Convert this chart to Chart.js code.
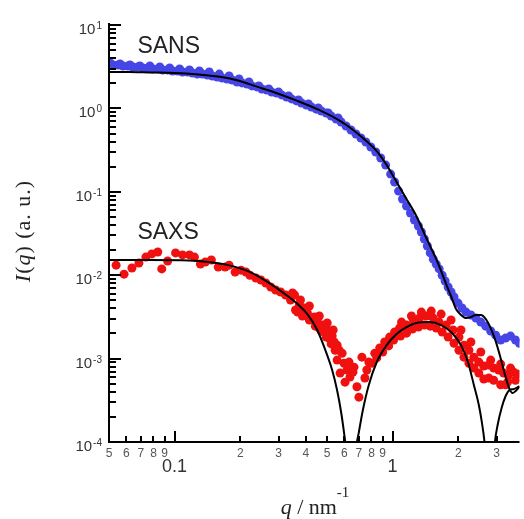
<!DOCTYPE html>
<html>
<head>
<meta charset="utf-8">
<script src="https://cdn.jsdelivr.net/npm/chart.js@4"></script>
<style>
  html, body { margin: 0; padding: 0; background: #fff; }
  canvas { display: block; }
</style>
</head>
<body>
<canvas id="scattering-chart" width="524" height="519"></canvas>
<script>
// SANS data (blue dots), q in nm^-1, I in a.u.
const sansQ = [0.0496,0.0523,0.0551,0.0580,0.0611,0.0644,0.0679,0.0715,0.0754,0.0794,
  0.0837,0.0882,0.0929,0.0979,0.1032,0.1087,0.1146,0.1207,0.1272,0.1341,
  0.1413,0.1489,0.1568,0.1653,0.1741,0.1835,0.1934,0.2038,0.2147,0.2262,
  0.2384,0.2512,0.2647,0.2789,0.2939,0.3097,0.3263,0.3438,0.3623,0.3818,
  0.4023,0.4239,0.4467,0.4707,0.4960,0.5226,0.5507,0.5803,0.6115,0.6443,
  0.6790,0.7155,0.7539,0.7943,0.8370,0.8820,0.9294,0.9793,1.021,1.065,
  1.110,1.158,1.207,1.259,1.313,1.355,1.398,1.443,1.488,1.536,
  1.585,1.635,1.688,1.741,1.797,1.854,1.913,1.995,2.080,2.170,
  2.286,2.409,2.538,2.675,2.818,2.970,3.130,3.298,3.475,3.662,3.818,
  0.0506,0.0562,0.0624,0.0693,0.0770,0.0855,0.0949,0.1054,0.1170,0.1299,
  0.1442,0.1602,0.1778,0.1974,0.2193,0.2434,0.2703,0.3001,0.3332,0.3700,
  0.4108,0.4560,0.5064,0.5623];
const sansI = [3.41,3.31,3.31,3.22,3.22,3.14,3.14,3.05,3.05,2.97,
  2.97,2.89,2.89,2.81,2.81,2.73,2.73,2.66,2.58,2.58,
  2.51,2.45,2.38,2.31,2.25,2.19,2.07,2.02,1.96,1.86,
  1.81,1.71,1.66,1.57,1.53,1.45,1.37,1.30,1.23,1.16,
  1.10,1.04,0.98,0.931,0.88,0.811,0.746,0.687,0.615,0.551,
  0.493,0.441,0.395,0.344,0.300,0.254,0.209,0.163,0.131,0.102,
  0.082,0.0676,0.0557,0.0459,0.0389,0.0330,0.0272,0.0224,0.0185,0.0156,
  0.0136,0.0119,0.0100,0.00851,0.00721,0.00628,0.00547,0.00463,0.00404,0.00361,
  0.00333,0.00306,0.00274,0.00245,0.00214,0.00191,0.00167,0.00176,0.00186,0.00167,0.00153,
  3.50,3.41,3.31,3.22,3.22,3.14,3.05,2.97,2.89,2.81,
  2.73,2.58,2.45,2.25,2.07,1.86,1.71,1.57,1.41,1.26,
  1.13,1.01,0.88,0.767];

// SAXS data (red dots)
const saxsQ = [0.0539,0.0586,0.0637,0.0686,0.0738,0.0786,0.0837,0.0873,0.0929,0.1010,
  0.1087,0.1170,0.1233,0.1313,0.1383,0.1474,0.1585,0.1705,0.1778,0.1894,
  0.2016,0.2125,0.2215,0.2359,0.2486,0.2619,0.2760,0.2908,0.3064,0.3229,
  0.3402,0.3548,0.3585,0.3738,0.3939,0.4065,0.4239,0.4375,0.4514,0.4609,
  0.4757,0.4858,0.5012,0.5117,0.5282,0.5395,0.5564,0.5683,0.5864,0.5564,
  0.5987,0.6179,0.5742,0.6049,0.6374,0.6648,0.686,0.7006,0.7231,0.7616,
  0.8027,0.8283,0.8727,0.9197,0.9691,1.021,1.076,1.158,1.246,1.327,
  1.427,1.536,1.635,1.760,1.894,2.016,2.125,2.239,2.359,2.486,
  2.619,2.760,2.908,3.064,3.229,3.298,3.402,3.585,3.738,
  0.3664,0.3857,0.4150,0.4420,0.4707,0.4960,0.5226,0.5450,0.631,0.658,
  0.746,0.7777,0.846,0.9006,0.959,1.011,1.087,1.158,1.233,1.313,
  1.398,1.488,1.585,1.688,1.797,1.913,2.016,2.125,2.239,2.359,
  2.486,2.619,2.760,2.908,3.130,3.367,3.662,
  1.099,1.220,1.355,1.504,1.670,1.854,2.059,2.286,2.538,2.818,3.130,3.475,
  0.3475,0.3778,0.4150,0.4609,0.5012,0.5337];
const saxsI = [0.0132,0.0103,0.0122,0.0140,0.0165,0.0180,0.0190,0.0119,0.0148,0.0185,
  0.0175,0.0175,0.0165,0.0136,0.0144,0.0152,0.0125,0.0125,0.0132,0.0109,
  0.0115,0.0109,0.0100,0.00925,0.00875,0.00805,0.00721,0.00664,0.00628,0.00578,
  0.00504,0.00578,0.00382,0.00439,0.00404,0.00352,0.00306,0.00315,0.00274,0.00232,
  0.00252,0.00208,0.00220,0.00176,0.00186,0.00158,0.00145,0.00126,0.00116,0.00096,
  0.00088,0.00073,0.00067,0.000522,0.00060,0.00079,0.00046,0.000345,0.00104,0.00073,
  0.00088,0.00116,0.00134,0.00158,0.00181,0.00208,0.00232,0.00252,0.00290,0.00306,
  0.00324,0.00306,0.00274,0.00252,0.00220,0.00181,0.00145,0.00126,0.00104,0.000908,
  0.000813,0.000836,0.000769,0.00073,0.00067,0.000485,0.000634,0.000689,0.000652,
  0.00361,0.00324,0.00290,0.00245,0.00214,0.00181,0.00150,0.00126,0.000908,0.000689,
  0.000585,0.000908,0.00102,0.00120,0.00142,0.00167,0.00186,0.00202,0.00226,0.00239,
  0.00252,0.00245,0.00232,0.00208,0.00181,0.00153,0.00126,0.00104,0.00088,0.000769,
  0.00067,0.000568,0.000585,0.00055,0.000485,0.000522,0.00055,
  0.00274,0.00324,0.00361,0.00371,0.00342,0.00290,0.00220,0.00158,0.00120,0.00096,0.000859,0.000769,
  0.00611,0.00504,0.00427,0.00324,0.00267,0.00220];

// model fits (black lines)
const sansFitQ = [0.0496,0.0618,0.0762,0.1,0.1285,0.1585,0.1954,0.241,0.297,0.366,
  0.451,0.556,0.618,0.686,0.762,0.846,0.939,1.043,1.158,1.285,
  1.427,1.585,1.67,1.76,1.854,1.954,2.06,2.17,2.286,2.41,
  2.54,2.676,2.818,2.97,3.13,3.30,3.44,3.55,3.66,3.82];
const sansFitI = [2.73,2.73,2.70,2.66,2.55,2.41,2.16,1.81,1.51,1.23,
  0.98,0.746,0.624,0.507,0.401,0.308,0.21,0.131,0.082,0.0513,
  0.0279,0.0156,0.0112,0.00783,0.00562,0.00393,0.00333,0.00306,0.00315,0.00333,
  0.00333,0.00298,0.00232,0.00162,0.00101,0.00060,0.00043,0.000386,0.000407,0.00046];
const saxsFitQ = [0.0496,0.0762,0.1158,0.1427,0.176,0.217,0.2676,0.33,0.366,0.4065,
  0.451,0.501,0.528,0.556,0.5803,0.598,0.612,0.645,0.679,0.7006,
  0.7305,0.7777,0.846,0.939,1.043,1.158,1.285,1.473,1.67,1.854,
  2.059,2.215,2.359,2.486,2.565,2.647,2.79,2.938,3.032,3.162,
  3.30,3.44,3.585,3.82];
const saxsFitI = [0.0152,0.0152,0.0150,0.0144,0.0132,0.0112,0.00828,0.00563,0.00452,0.00342,
  0.00220,0.00110,0.00073,0.00042,0.000229,0.000132,0.00008,0.00001,0.00008,0.000132,
  0.000242,0.000483,0.00091,0.00145,0.00197,0.00239,0.00267,0.00274,0.00252,0.00208,
  0.00145,0.00091,0.000483,0.000278,0.000174,0.000092,0.00001,0.000092,0.00016,0.000256,
  0.000356,0.00042,0.00043,0.000468];

// axis ticks and labels
const yDecades = [1e-4, 1e-3, 1e-2, 1e-1, 1, 10];
const yExponents = ['-4', '-3', '-2', '-1', '0', '1'];
const xMinorTicks = [0.05, 0.06, 0.07, 0.08, 0.09, 0.2, 0.3, 0.4, 0.5, 0.6, 0.7, 0.8, 0.9, 2, 3];
const xMinorLabels = ['5', '6', '7', '8', '9', '2', '3', '4', '5', '6', '7', '8', '9', '2', '3'];
const xMajorTicks = [0.1, 1];
const xMajorLabels = ['0.1', '1'];

// series labels written on the plot, anchored in data units
const seriesNotes = [
    { text: 'SANS', q: 0.0675, I: 4.62 },
    { text: 'SAXS', q: 0.0675, I: 0.0272 },
];

function toPoints(qs, is) {
    return qs.map((q, i) => ({ x: q, y: is[i] }));
}

function drawRuns(ctx, runs, x, y) {
    // runs drawn left to right, centred on x
    let total = 0;
    runs.forEach(r => { ctx.font = r.font; total += ctx.measureText(r.text).width; });
    let cx = x - total / 2;
    ctx.textAlign = 'left';
    runs.forEach(r => {
        ctx.font = r.font;
        ctx.fillText(r.text, cx, y + (r.dy || 0));
        cx += ctx.measureText(r.text).width;
    });
}

const paperAxes = {
    id: 'paperAxes',
    afterDatasetsDraw(chart) {
        const { ctx, chartArea: area, scales: { x, y } } = chart;
        ctx.save();
        ctx.strokeStyle = '#000';
        ctx.lineWidth = 2;
        ctx.lineCap = 'butt';

        const seg = (x1, y1, x2, y2) => {
            ctx.beginPath();
            ctx.moveTo(x1, y1);
            ctx.lineTo(x2, y2);
            ctx.stroke();
        };

        // axis lines
        seg(area.left, area.top - 2, area.left, area.bottom + 1);
        seg(area.left - 1, area.bottom, area.right, area.bottom);

        // y ticks, pointing inwards
        yDecades.forEach((d, i) => {
            const py = Math.round(y.getPixelForValue(d));
            seg(area.left, py, area.left + 12, py);
            if (i < yDecades.length - 1) {
                for (let m = 2; m <= 9; m++) {
                    const pm = Math.round(y.getPixelForValue(d * m));
                    seg(area.left, pm, area.left + 7, pm);
                }
            }
        });

        // x ticks, pointing up
        xMinorTicks.forEach(v => {
            const px = Math.round(x.getPixelForValue(v));
            seg(px, area.bottom, px, area.bottom - 6);
        });
        xMajorTicks.forEach(v => {
            const px = Math.round(x.getPixelForValue(v));
            seg(px, area.bottom, px, area.bottom - 11);
        });

        // y tick labels: 10 with raised exponent
        ctx.fillStyle = '#333';
        ctx.textBaseline = 'alphabetic';
        yDecades.forEach((d, i) => {
            const py = y.getPixelForValue(d);
            ctx.font = '10px "Liberation Sans", Arial, sans-serif';
            ctx.textAlign = 'right';
            const expRight = area.left - 7;
            ctx.fillText(yExponents[i], expRight, py + 4);
            const ew = ctx.measureText(yExponents[i]).width;
            ctx.font = '15px "Liberation Sans", Arial, sans-serif';
            ctx.fillText('10', expRight - ew - 1, py + 9);
        });

        // x tick labels
        ctx.textAlign = 'center';
        ctx.fillStyle = '#555';
        ctx.font = '12px "Liberation Sans", Arial, sans-serif';
        xMinorTicks.forEach((v, i) => {
            ctx.fillText(xMinorLabels[i], x.getPixelForValue(v), area.bottom + 15);
        });
        ctx.fillStyle = '#333';
        ctx.font = '18px "Liberation Sans", Arial, sans-serif';
        xMajorTicks.forEach((v, i) => {
            ctx.fillText(xMajorLabels[i], x.getPixelForValue(v), area.bottom + 30);
        });

        // series notes
        ctx.fillStyle = '#222';
        ctx.font = '23px "Liberation Sans", Arial, sans-serif';
        ctx.textAlign = 'left';
        seriesNotes.forEach(n => {
            ctx.fillText(n.text, x.getPixelForValue(n.q), y.getPixelForValue(n.I));
        });

        // axis titles
        const serif = '"Liberation Serif", "Times New Roman", serif';
        ctx.fillStyle = '#222';
        drawRuns(ctx, [
            { text: 'q', font: `italic 22px ${serif}` },
            { text: ' / nm', font: `22px ${serif}` },
            { text: '-1', font: `15px ${serif}`, dy: -17 },
        ], 315, 514);

        ctx.save();
        ctx.translate(30, 231);
        ctx.rotate(-Math.PI / 2);
        ctx.letterSpacing = '1px';
        drawRuns(ctx, [
            { text: 'I', font: `italic 22px ${serif}` },
            { text: '(', font: `22px ${serif}` },
            { text: 'q', font: `italic 22px ${serif}` },
            { text: ') (a. u.)', font: `22px ${serif}` },
        ], 0, 0);
        ctx.restore();

        ctx.restore();
    }
};

const canvas = document.querySelector('#scattering-chart');

new Chart(canvas.getContext('2d'), {
    type: 'scatter',
    data: {
        datasets: [
            {
                label: 'SANS fit',
                data: toPoints(sansFitQ, sansFitI),
                showLine: true,
                borderColor: '#000',
                borderWidth: 2,
                pointRadius: 0,
                cubicInterpolationMode: 'monotone',
                order: 1,
            },
            {
                label: 'SAXS fit',
                data: toPoints(saxsFitQ, saxsFitI),
                showLine: true,
                borderColor: '#000',
                borderWidth: 2,
                pointRadius: 0,
                cubicInterpolationMode: 'monotone',
                order: 1,
            },
            {
                label: 'SAXS',
                data: toPoints(saxsQ, saxsI),
                backgroundColor: '#f01010',
                borderWidth: 0,
                pointRadius: 4.5,
                order: 2,
            },
            {
                label: 'SANS',
                data: toPoints(sansQ, sansI),
                backgroundColor: '#4646e6',
                borderWidth: 0,
                pointRadius: 4.5,
                order: 3,
            },
        ]
    },
    options: {
        responsive: false,
        animation: false,
        devicePixelRatio: 1,
        layout: { padding: { left: 109, top: 25, right: 0, bottom: 77 } },
        plugins: { legend: { display: false }, tooltip: { enabled: false } },
        scales: {
            x: { type: 'logarithmic', min: 0.05, max: 3.82, display: false },
            y: { type: 'logarithmic', min: 1e-4, max: 10, display: false },
        }
    },
    plugins: [paperAxes]
});
</script>
</body>
</html>
